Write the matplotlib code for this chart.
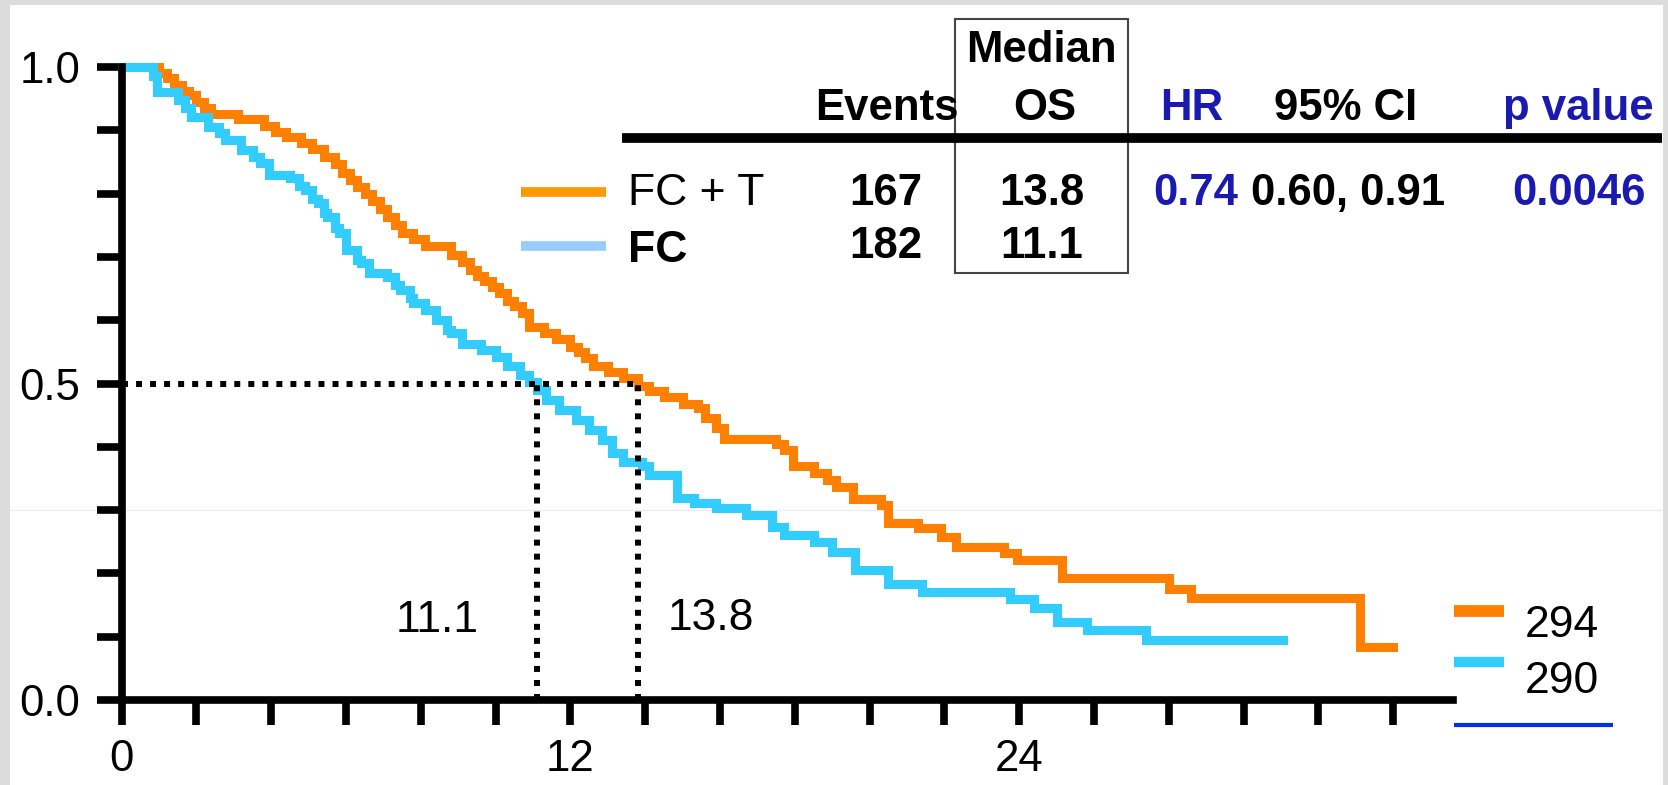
import matplotlib
matplotlib.use('Agg')
import matplotlib.pyplot as plt
from matplotlib.lines import Line2D
from matplotlib.patches import Rectangle

plt.rcParams['font.family'] = ['Liberation Sans', 'DejaVu Sans']

W, H = 1668, 785

# FC + T arm: event times (months) and survival after each step
fct_time = [0.0, 1.0, 1.2, 1.4, 1.6, 1.8, 2.0, 2.2, 2.4, 3.1, 3.8, 4.1, 4.4, 4.8,
            5.1, 5.4, 5.7, 5.9, 6.1, 6.3, 6.5, 6.7, 6.9, 7.1, 7.3, 7.5, 7.8, 8.1,
            8.8, 9.1, 9.3, 9.5, 9.7, 9.9, 10.1, 10.3, 10.5, 10.7, 10.9, 11.3, 11.6,
            12.0, 12.2, 12.4, 12.6, 13.0, 13.4, 13.8, 14.1, 14.5, 15.0, 15.4, 15.6,
            15.9, 16.1, 17.5, 17.7, 17.95, 18.5, 18.85, 19.1, 19.55, 20.3, 20.5,
            21.3, 21.9, 22.3, 23.6, 23.95, 25.15, 28.0, 28.6, 33.1, 34.0]
fct_surv = [1.0, 0.990, 0.983, 0.972, 0.962, 0.955, 0.945, 0.936, 0.926, 0.918,
            0.907, 0.898, 0.890, 0.880, 0.870, 0.858, 0.846, 0.833, 0.822, 0.810,
            0.800, 0.788, 0.775, 0.763, 0.750, 0.738, 0.728, 0.718, 0.703, 0.692,
            0.680, 0.670, 0.662, 0.652, 0.643, 0.630, 0.622, 0.612, 0.590, 0.580,
            0.570, 0.558, 0.550, 0.540, 0.528, 0.518, 0.508, 0.496, 0.488, 0.478,
            0.468, 0.462, 0.445, 0.430, 0.413, 0.405, 0.395, 0.370, 0.358, 0.348,
            0.337, 0.318, 0.308, 0.279, 0.272, 0.258, 0.242, 0.232, 0.221, 0.192,
            0.176, 0.161, 0.084, 0.084]

# FC arm
fc_time = [0.0, 0.85, 0.95, 1.5, 1.7, 1.85, 2.3, 2.6, 2.75, 3.2, 3.5, 3.7, 3.95,
           4.5, 4.75, 4.9, 5.1, 5.25, 5.4, 5.5, 5.7, 5.8, 6.0, 6.3, 6.4, 6.6, 7.1,
           7.3, 7.45, 7.7, 7.8, 8.1, 8.4, 8.7, 8.8, 9.1, 9.6, 10.0, 10.3, 10.65,
           10.9, 11.1, 11.35, 11.7, 12.15, 12.5, 12.85, 13.1, 13.4, 13.9, 14.1,
           14.85, 15.3, 15.9, 16.7, 17.4, 17.7, 18.5, 19.0, 19.6, 20.5, 21.4,
           23.75, 24.4, 25.0, 25.8, 27.4, 31.05]
fc_surv = [1.0, 0.985, 0.960, 0.948, 0.935, 0.921, 0.906, 0.895, 0.885, 0.869,
           0.858, 0.848, 0.829, 0.824, 0.812, 0.806, 0.792, 0.785, 0.770, 0.763,
           0.745, 0.737, 0.711, 0.695, 0.690, 0.674, 0.669, 0.655, 0.648, 0.635,
           0.627, 0.616, 0.600, 0.585, 0.579, 0.563, 0.553, 0.542, 0.527, 0.513,
           0.503, 0.490, 0.474, 0.458, 0.442, 0.427, 0.411, 0.390, 0.376, 0.369,
           0.355, 0.319, 0.311, 0.303, 0.292, 0.274, 0.261, 0.250, 0.234, 0.205,
           0.184, 0.171, 0.160, 0.145, 0.124, 0.111, 0.094, 0.094]

median_fct = 13.8
median_fc = 11.1

arm_labels = ['FC + T', 'FC']
n_patients = [294, 290]
events = [167, 182]
median_os = ['13.8', '11.1']
hr = '0.74'
ci = '0.60, 0.91'
p_value = '0.0046'

x_ticks = list(range(0, 35, 2))
x_labeled = [0, 12, 24]
y_ticks = [i / 10 for i in range(11)]
y_labeled = [0.0, 0.5, 1.0]

ORANGE = '#FF8000'
CYAN = '#33CCFF'
BLUE_TXT = '#1A1AB0'
FS = 32


def fxy(x, y):
    # 像素坐标（左上角为原点）转换为 figure 坐标
    return x / W, 1 - y / H


fig = plt.figure(figsize=(W / 100, H / 100), dpi=100)
fig.patch.set_facecolor('white')

# 浅灰色边框和一条淡灰色横线
for x0, y0, w, h in [(0, 0, 10, H), (0, 0, W, 5), (W - 5, 0, 5, H)]:
    fig.add_artist(Rectangle((x0 / W, 1 - (y0 + h) / H), w / W, h / H,
                             transform=fig.transFigure, facecolor='#dcdcdc',
                             edgecolor='none', zorder=-2))
fig.add_artist(Line2D([10 / W, (W - 5) / W], [1 - 510 / H] * 2, color='#ebebeb',
                      lw=0.8, transform=fig.transFigure, zorder=-1))

ax = fig.add_axes([121.7 / W, 85 / H, 36 * 37.4 / W, 1.05 * 633 / H])
ax.patch.set_alpha(0)
ax.set_xlim(0, 36)
ax.set_ylim(0, 1.05)

ax.step(fct_time, fct_surv, where='post', color=ORANGE, lw=6.5,
        solid_joinstyle='miter', clip_on=False, zorder=2)
ax.step(fc_time, fc_surv, where='post', color=CYAN, lw=6.5,
        solid_joinstyle='miter', clip_on=False, zorder=2.1)

# 中位生存时间的虚线
dot = (0, (1, 1.35))
ax.plot([0, median_fct], [0.5, 0.5], color='black', lw=4.3, ls=dot,
        dash_capstyle='butt', zorder=3)
for m in [median_fc, median_fct]:
    ax.plot([m, m], [0, 0.5], color='black', lw=4.3, ls=dot,
            dash_capstyle='butt', zorder=3)
ax.text(8.44, 0.107, f'{median_fc}', fontsize=FS, ha='center', va='baseline')
ax.text(15.76, 0.110, f'{median_fct}', fontsize=FS, ha='center', va='baseline')

for s in ['top', 'right']:
    ax.spines[s].set_visible(False)
for s in ['left', 'bottom']:
    ax.spines[s].set_linewidth(5.5)
    ax.spines[s].set_capstyle('projecting')
ax.spines['left'].set_bounds(0, 1)
ax.spines['bottom'].set_bounds(0, 35.6)

ax.set_xticks(x_ticks)
ax.set_xticklabels([str(t) if t in x_labeled else '' for t in x_ticks])
ax.set_yticks(y_ticks)
ax.set_yticklabels([f'{t:.1f}' if t in y_labeled else '' for t in y_ticks])
ax.tick_params(direction='out', length=18, width=5.5, labelsize=31.5)
ax.tick_params(axis='x', pad=10)
ax.tick_params(axis='y', pad=12)

# 右下角的样本量图例
fig.add_artist(Line2D([1454 / W, 1504 / W], [1 - 611 / H] * 2, color=ORANGE,
                      lw=8.5, solid_capstyle='butt', transform=fig.transFigure))
fig.add_artist(Line2D([1454 / W, 1504 / W], [1 - 662 / H] * 2, color=CYAN,
                      lw=7.5, solid_capstyle='butt', transform=fig.transFigure))
fig.add_artist(Line2D([1454 / W, 1613 / W], [1 - 724.5 / H] * 2, color='#0033DD',
                      lw=3, solid_capstyle='butt', transform=fig.transFigure))
fig.text(*fxy(1525, 637), str(n_patients[0]), fontsize=FS, va='baseline')
fig.text(*fxy(1525, 693), str(n_patients[1]), fontsize=FS, va='baseline')

# 右上角的结果表格
bold = dict(fontsize=31.5, fontweight='bold', va='baseline', ha='center')
fig.text(*fxy(1041, 62), 'Median', **bold)
fig.text(*fxy(1045, 120), 'OS', **bold)
fig.text(*fxy(887, 120), 'Events', **bold)
fig.text(*fxy(1192, 120), 'HR', color=BLUE_TXT, **bold)
fig.text(*fxy(1346, 120), '95% CI', **bold)
fig.text(*fxy(1578, 120), 'p value', color=BLUE_TXT, **bold)

fig.add_artist(Line2D([622 / W, 1662 / W], [1 - 138 / H] * 2, color='black', lw=7,
                      solid_capstyle='butt', transform=fig.transFigure))
fig.add_artist(Rectangle(fxy(955, 273), 173 / W, 254 / H, fill=False,
                         edgecolor='#444444', lw=1.5, transform=fig.transFigure))

fig.add_artist(Line2D([521 / W, 606 / W], [1 - 192 / H] * 2, color='#FF9900', lw=7,
                      solid_capstyle='butt', transform=fig.transFigure))
fig.add_artist(Line2D([521 / W, 606 / W], [1 - 246 / H] * 2, color='#99CCFF', lw=7,
                      solid_capstyle='butt', transform=fig.transFigure))
fig.text(*fxy(628, 205), arm_labels[0], fontsize=FS, va='baseline')
fig.text(*fxy(628, 262), arm_labels[1], fontsize=FS, fontweight='bold', va='baseline')

row_y = [205, 258]
for i in range(2):
    fig.text(*fxy(886, row_y[i]), str(events[i]), **bold)
    fig.text(*fxy(1042, row_y[i]), median_os[i], **bold)
fig.text(*fxy(1196, 205), hr, color=BLUE_TXT, **bold)
fig.text(*fxy(1348, 205), ci, **bold)
fig.text(*fxy(1579, 205), p_value, color=BLUE_TXT, **bold)

fig.savefig('out.png', dpi=100)
